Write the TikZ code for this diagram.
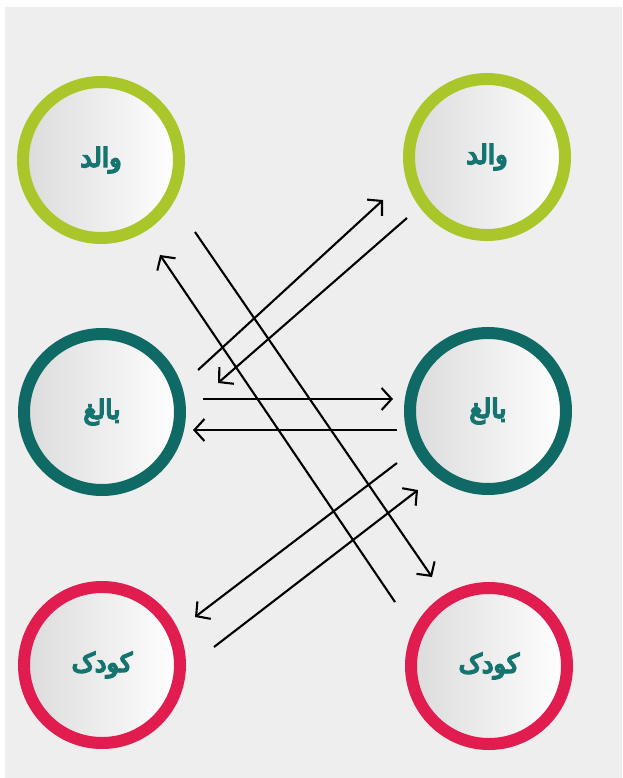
\documentclass[tikz,border=0pt]{standalone}
\usepackage{fontspec}
\usepackage{tikz}
\usetikzlibrary{
    calc,
    arrows.meta
}
\TeXXeTstate=1
\newfontfamily\arabicfont[Script=Arabic,FakeBold=7]{DejaVu Sans}
\definecolor{bgGray}{HTML}{EEEEEE}
\definecolor{limeRing}{HTML}{A9C72B}
\definecolor{tealRing}{HTML}{0F6A66}
\definecolor{redRing}{HTML}{E11C4F}
\definecolor{labelTeal}{HTML}{167470}

\begin{document}
\begin{tikzpicture}[x=1pt,y=-1pt,
  ring/.style={circle,minimum size=156pt,line width=12pt,draw=#1,
    left color=black!14,right color=white,text=labelTeal,
    font=\arabicfont\fontsize{26}{28}\selectfont},
  link/.style={line width=2.1pt,-{Straight Barb[length=10pt,width=22pt]}}]
\useasboundingbox (0,0) rectangle (622,778);
\fill[bgGray] (5,7) rectangle (622,778);

\node[ring=limeRing] (ParentL) at (101,160) {\beginR والد\endR};
\node[ring=limeRing] (ParentR) at (487,157) {\beginR والد\endR};
\node[ring=tealRing] (AdultL) at (102,412) {\beginR بالغ\endR};
\node[ring=tealRing] (AdultR) at (488,411) {\beginR بالغ\endR};
\node[ring=redRing] (ChildL) at (102,665) {\beginR کودک\endR};
\node[ring=redRing] (ChildR) at (489,666) {\beginR کودک\endR};

% arrow ends
\coordinate (ALtoPRs) at (198,370);
\coordinate (ALtoPRe) at (383,200);
\coordinate (PRtoALs) at (407,218);
\coordinate (PRtoALe) at (218,383);
\coordinate (ALtoARs) at (203,399);
\coordinate (ALtoARe) at (393,399);
\coordinate (ARtoALs) at (397,430);
\coordinate (ARtoALe) at (193,430);
\coordinate (CRtoPLs) at (395,602);
\coordinate (CRtoPLe) at (160,255);
\coordinate (PLtoCRs) at (195,232);
\coordinate (PLtoCRe) at (432,577);
\coordinate (ARtoCLs) at (397,463);
\coordinate (ARtoCLe) at (195,617);
\coordinate (CLtoARs) at (214,647);
\coordinate (CLtoARe) at (418,490);

\draw[link] (ALtoPRs) -- (ALtoPRe);
\draw[link] (PRtoALs) -- (PRtoALe);
\draw[link] (ALtoARs) -- (ALtoARe);
\draw[link] (ARtoALs) -- (ARtoALe);
\draw[link] (CRtoPLs) -- (CRtoPLe);
\draw[link] (PLtoCRs) -- (PLtoCRe);
\draw[link] (ARtoCLs) -- (ARtoCLe);
\draw[link] (CLtoARs) -- (CLtoARe);
\end{tikzpicture}
\end{document}
